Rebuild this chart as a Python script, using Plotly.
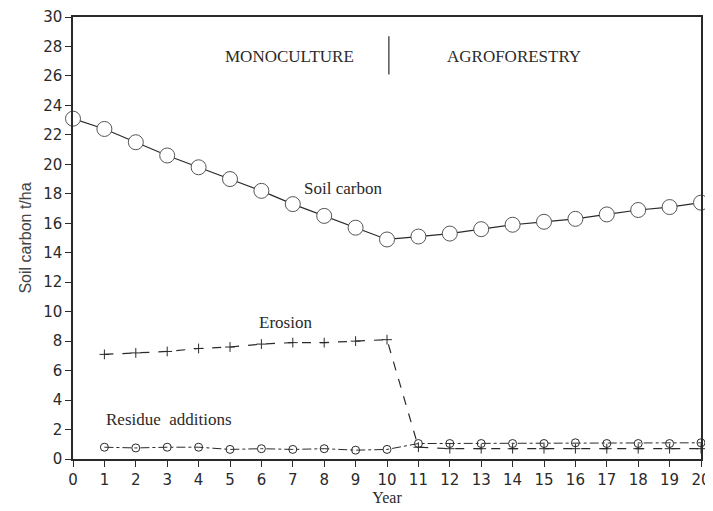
import plotly.graph_objs as go

years = list(range(0, 21))
soil_carbon = [23.1, 22.4, 21.5, 20.6, 19.8, 19.0, 18.2, 17.3, 16.5, 15.7, 14.9,
               15.1, 15.3, 15.6, 15.9, 16.1, 16.3, 16.6, 16.9, 17.1, 17.4]

erosion_years = list(range(1, 21))
erosion = [7.1, 7.2, 7.3, 7.5, 7.6, 7.8, 7.9, 7.9, 8.0, 8.1,
           0.8, 0.7, 0.7, 0.7, 0.7, 0.7, 0.7, 0.7, 0.7, 0.7]

residue_years = list(range(1, 21))
residue = [0.8, 0.75, 0.8, 0.8, 0.65, 0.7, 0.65, 0.7, 0.6, 0.65,
           1.05, 1.05, 1.05, 1.05, 1.05, 1.1, 1.05, 1.05, 1.05, 1.1]

INK = "#2a2a2a"
SERIF = "Liberation Serif"
SANS = "DejaVu Sans"

fig = go.Figure()

fig.add_trace(go.Scatter(
    x=residue_years, y=residue, mode="lines+markers",
    line=dict(color=INK, width=1, dash="dashdot"),
    marker=dict(symbol="circle-open", size=8, color=INK, line=dict(width=1)),
    cliponaxis=False, showlegend=False))

fig.add_trace(go.Scatter(
    x=erosion_years, y=erosion, mode="lines+markers",
    line=dict(color=INK, width=1.2, dash="dash"),
    marker=dict(symbol="cross-thin-open", size=7, color=INK, line=dict(width=1, color=INK)),
    cliponaxis=False, showlegend=False))

fig.add_trace(go.Scatter(
    x=years, y=soil_carbon, mode="lines+markers",
    line=dict(color=INK, width=1.2),
    marker=dict(symbol="circle", size=15, color="white", line=dict(width=1, color="#555")),
    cliponaxis=False, showlegend=False))

# divider between the two periods
fig.add_shape(type="line", x0=10.06, x1=10.06, y0=26.1, y1=28.7,
              line=dict(color=INK, width=1.2))

notes = [
    ("MONOCULTURE", 6.88, 27.3),
    ("AGROFORESTRY", 14.04, 27.3),
    ("Soil carbon", 8.61, 18.35),
    ("Erosion", 6.78, 9.25),
    ("Residue  additions", 3.06, 2.7),
]
for txt, x, y in notes:
    fig.add_annotation(x=x, y=y, text=txt, showarrow=False,
                       font=dict(family=SERIF, size=17, color=INK))

# page body adds an 8px margin, so margins are shifted to compensate
fig.update_layout(
    width=713, height=511,
    plot_bgcolor="white", paper_bgcolor="white",
    margin=dict(l=65, r=20, t=9, b=60),
    font=dict(family=SANS, color=INK),
)
fig.update_xaxes(
    range=[0, 20], tickmode="linear", dtick=1, showgrid=False, zeroline=False,
    showline=True, linecolor=INK, linewidth=1.5, mirror=True,
    ticks="outside", ticklen=6, tickcolor=INK, automargin=False,
    tickfont=dict(family=SANS, size=15, color=INK),
    title=dict(text="Year", font=dict(family=SERIF, size=16, color=INK), standoff=4),
)
fig.update_yaxes(
    range=[0, 30], tickmode="linear", dtick=2, showgrid=False, zeroline=False,
    showline=True, linecolor=INK, linewidth=1.5, mirror=True,
    ticks="outside", ticklen=6, tickcolor=INK, automargin=False,
    tickfont=dict(family=SANS, size=15, color=INK),
    title=dict(text="Soil carbon t/ha", font=dict(family="Liberation Sans", size=16, color="#444"),
               standoff=8),
)

fig.write_html("out.html")
